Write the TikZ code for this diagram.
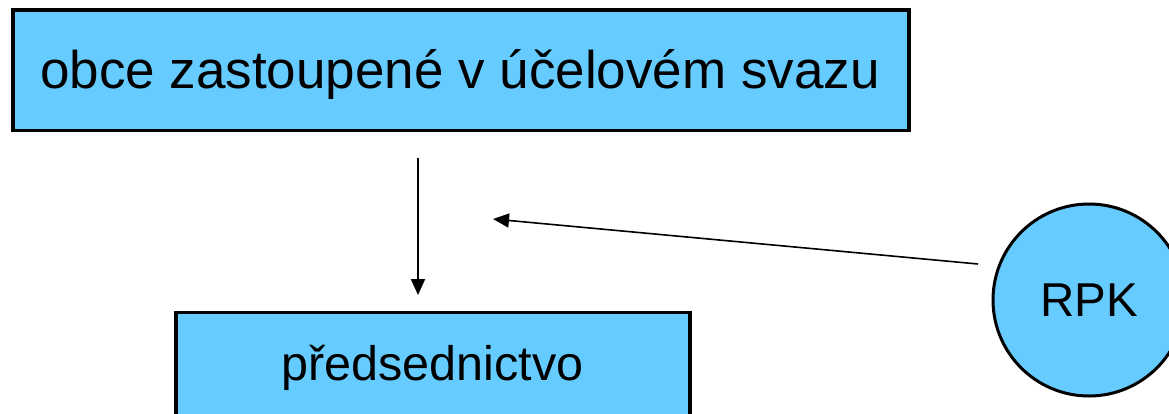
\documentclass[tikz,border=0pt]{standalone}
\usepackage{fontspec}
\setmainfont{Liberation Sans}
\usetikzlibrary{arrows.meta}
\definecolor{boxblue}{HTML}{66CCFF}
\tikzset{
  box/.style={draw=black, line width=3.5pt, fill=boxblue, inner sep=0pt},
  conn/.style={line width=2pt, -{Triangle[length=16pt,width=14pt]}}
}
\begin{document}
\begin{tikzpicture}[x=1pt,y=-1pt]
\useasboundingbox (0,0) rectangle (1169,413);
\clip (0,0) rectangle (1169,413);
\node[box, minimum width=896pt, minimum height=120.5pt] (top) at (461,70) {};
\node[font=\fontsize{53}{60}\selectfont, anchor=base, inner sep=0pt] (toptxt) at (460,88) {obce zastoupené v účelovém svazu};
\node[box, minimum width=514pt, minimum height=120pt, anchor=north] (pred) at (433,310.5) {};
\node[font=\fontsize{48.5}{58}\selectfont, anchor=base, inner sep=0pt] (predtxt) at (432.5,380) {předsednictvo};
\node[draw=black, line width=3pt, fill=boxblue, circle, minimum size=192pt, inner sep=0pt, font=\fontsize{47.5}{56}\selectfont] (rpk) at (1089,300) {RPK};
\coordinate (a1) at (418,158);
\coordinate (a2) at (418,295);
\coordinate (b1) at (978,264);
\coordinate (b2) at (493,219);
\draw[conn] (a1) -- (a2);
\draw[conn, line width=1.6pt] (b1) -- (b2);
\end{tikzpicture}
\end{document}
